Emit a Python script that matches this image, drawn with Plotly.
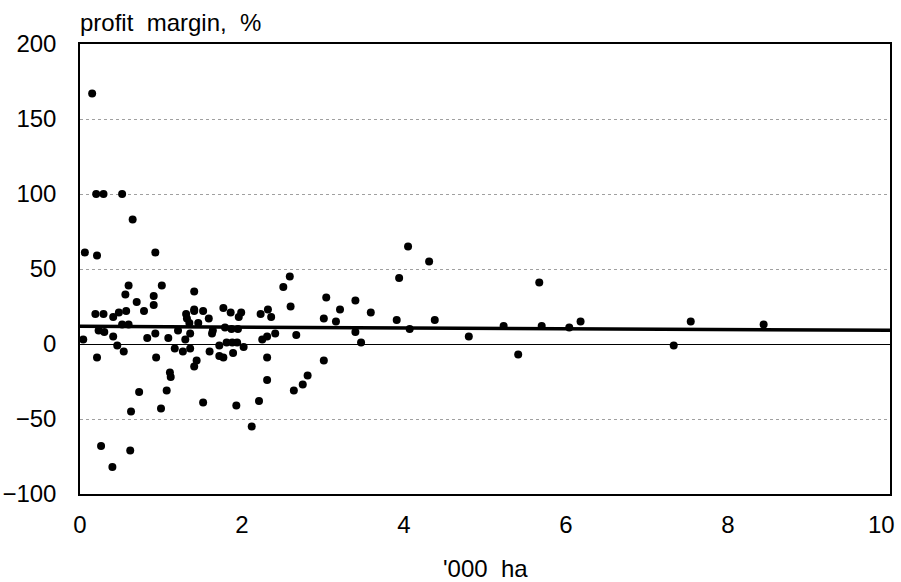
import plotly.graph_objects as go

# Farm size ('000 ha) and profit margin (%) for each farm
farm_size = [
    0.15, 0.20, 0.29, 0.52, 0.65, 0.06, 0.21, 0.93, 0.60, 0.56,
    0.70, 1.01, 0.91, 0.91, 0.79, 1.41, 0.19, 0.29, 0.41, 0.48,
    0.57, 0.52, 0.60, 0.23, 0.30, 0.41, 0.04, 0.46, 0.54, 0.21,
    0.83, 0.93, 0.94, 1.31, 1.32, 1.41, 1.41, 1.52, 1.59, 1.77,
    1.86, 1.99, 1.96, 2.23, 2.32, 2.36, 1.35, 1.46, 1.79, 1.87,
    1.95, 1.09, 1.21, 1.30, 1.36, 1.63, 1.64, 1.81, 1.88, 1.94,
    1.72, 1.89, 2.02, 2.25, 2.31, 2.41, 1.17, 1.27, 1.36, 1.60,
    1.44, 1.41, 1.72, 1.77, 2.31, 1.11, 1.12, 0.73, 1.07, 1.52,
    0.63, 1.00, 0.26, 0.62, 0.40, 3.01, 2.81, 2.75, 2.64, 2.31,
    2.21, 1.93, 2.12, 3.47, 2.59, 2.51, 3.04, 3.40, 2.60, 3.21,
    3.59, 3.01, 3.16, 3.40, 2.67, 4.05, 4.31, 3.94, 5.67, 3.91,
    4.38, 4.07, 4.80, 5.23, 5.70, 6.04, 5.41, 6.18, 7.54, 8.44,
    7.33,
]
profit_margin = [
    167, 100, 100, 100, 83, 61, 59, 61, 39, 33,
    28, 39, 32, 26, 22, 35, 20, 20, 18, 21,
    22, 13, 13, 9, 8, 5, 3, -1, -5, -9,
    4, 7, -9, 20, 17, 23, 22, 22, 17, 24,
    21, 21, 18, 20, 23, 18, 14, 14, 11, 10,
    10, 4, 9, 3, 7, 7, 9, 1, 1, 1,
    -1, -6, -2, 3, 5, 7, -3, -5, -3, -5,
    -11, -15, -8, -9, -9, -19, -22, -32, -31, -39,
    -45, -43, -68, -71, -82, -11, -21, -27, -31, -24,
    -38, -41, -55, 1, 45, 38, 31, 29, 25, 23,
    21, 17, 15, 8, 6, 65, 55, 44, 41, 16,
    16, 10, 5, 12, 12, 11, -7, 15, 15, 13,
    -1,
]

# Linear trend line end points
trend_x = [0, 10]
trend_y = [11.8, 9.1]

x_ticks = [0, 2, 4, 6, 8, 10]
x_tick_text = ["0", "2", "4", "6", "8", "10"]
y_ticks = [-100, -50, 0, 50, 100, 150, 200]

FONT = "Liberation Sans, Arial, sans-serif"
TICK = dict(family=FONT, size=24, color="black")
LABEL = dict(family=FONT, size=24, color="black")

fig = go.Figure()

fig.add_trace(go.Scatter(
    x=farm_size, y=profit_margin, mode="markers",
    marker=dict(color="black", size=8, line=dict(width=0)),
    hoverinfo="x+y", showlegend=False,
))

fig.add_trace(go.Scatter(
    x=trend_x, y=trend_y, mode="lines",
    line=dict(color="black", width=3.5),
    hoverinfo="skip", showlegend=False,
))

# the last x label is drawn separately, nudged left to stay on the page
axis_text = x_tick_text[:-1] + [""]

fig.update_layout(
    width=901, height=582,
    margin=dict(l=80, r=11, t=44, b=88),
    paper_bgcolor="white", plot_bgcolor="white",
    font=TICK,
    xaxis=dict(
        range=[0, 10], tickvals=x_ticks, ticktext=axis_text,
        showgrid=False, automargin=False,
        zeroline=False, showline=True, linecolor="black", linewidth=1.5,
        mirror=True, ticks="", ticklabelstandoff=8,
        ticklabeloverflow="allow", tickfont=TICK,
    ),
    yaxis=dict(
        range=[-100, 200], tickvals=y_ticks, showgrid=True, automargin=False,
        gridcolor="#a0a0a0", griddash="dot", gridwidth=1,
        zeroline=True, zerolinecolor="black", zerolinewidth=1.2,
        showline=True, linecolor="black", linewidth=1.5,
        mirror=True, ticks="", ticklabelstandoff=17, tickfont=TICK,
        ticklabeloverflow="allow",
    ),
    annotations=[
        dict(
            text="profit  margin,  %", xref="paper", yref="paper",
            x=0.0, y=1.0, xanchor="left", yanchor="bottom", yshift=6,
            xshift=-2, showarrow=False, font=LABEL,
        ),
        dict(
            text="'000  ha", xref="paper", yref="paper",
            x=0.5, y=0.0, xanchor="center", yanchor="middle", yshift=-74,
            showarrow=False, font=LABEL,
        ),
        dict(
            text=x_tick_text[-1], xref="x", yref="paper",
            x=x_ticks[-1], y=0.0, xanchor="right", yanchor="middle",
            xshift=7, yshift=-30, showarrow=False, font=TICK,
        ),
    ],
)

fig.write_html("out.html")
